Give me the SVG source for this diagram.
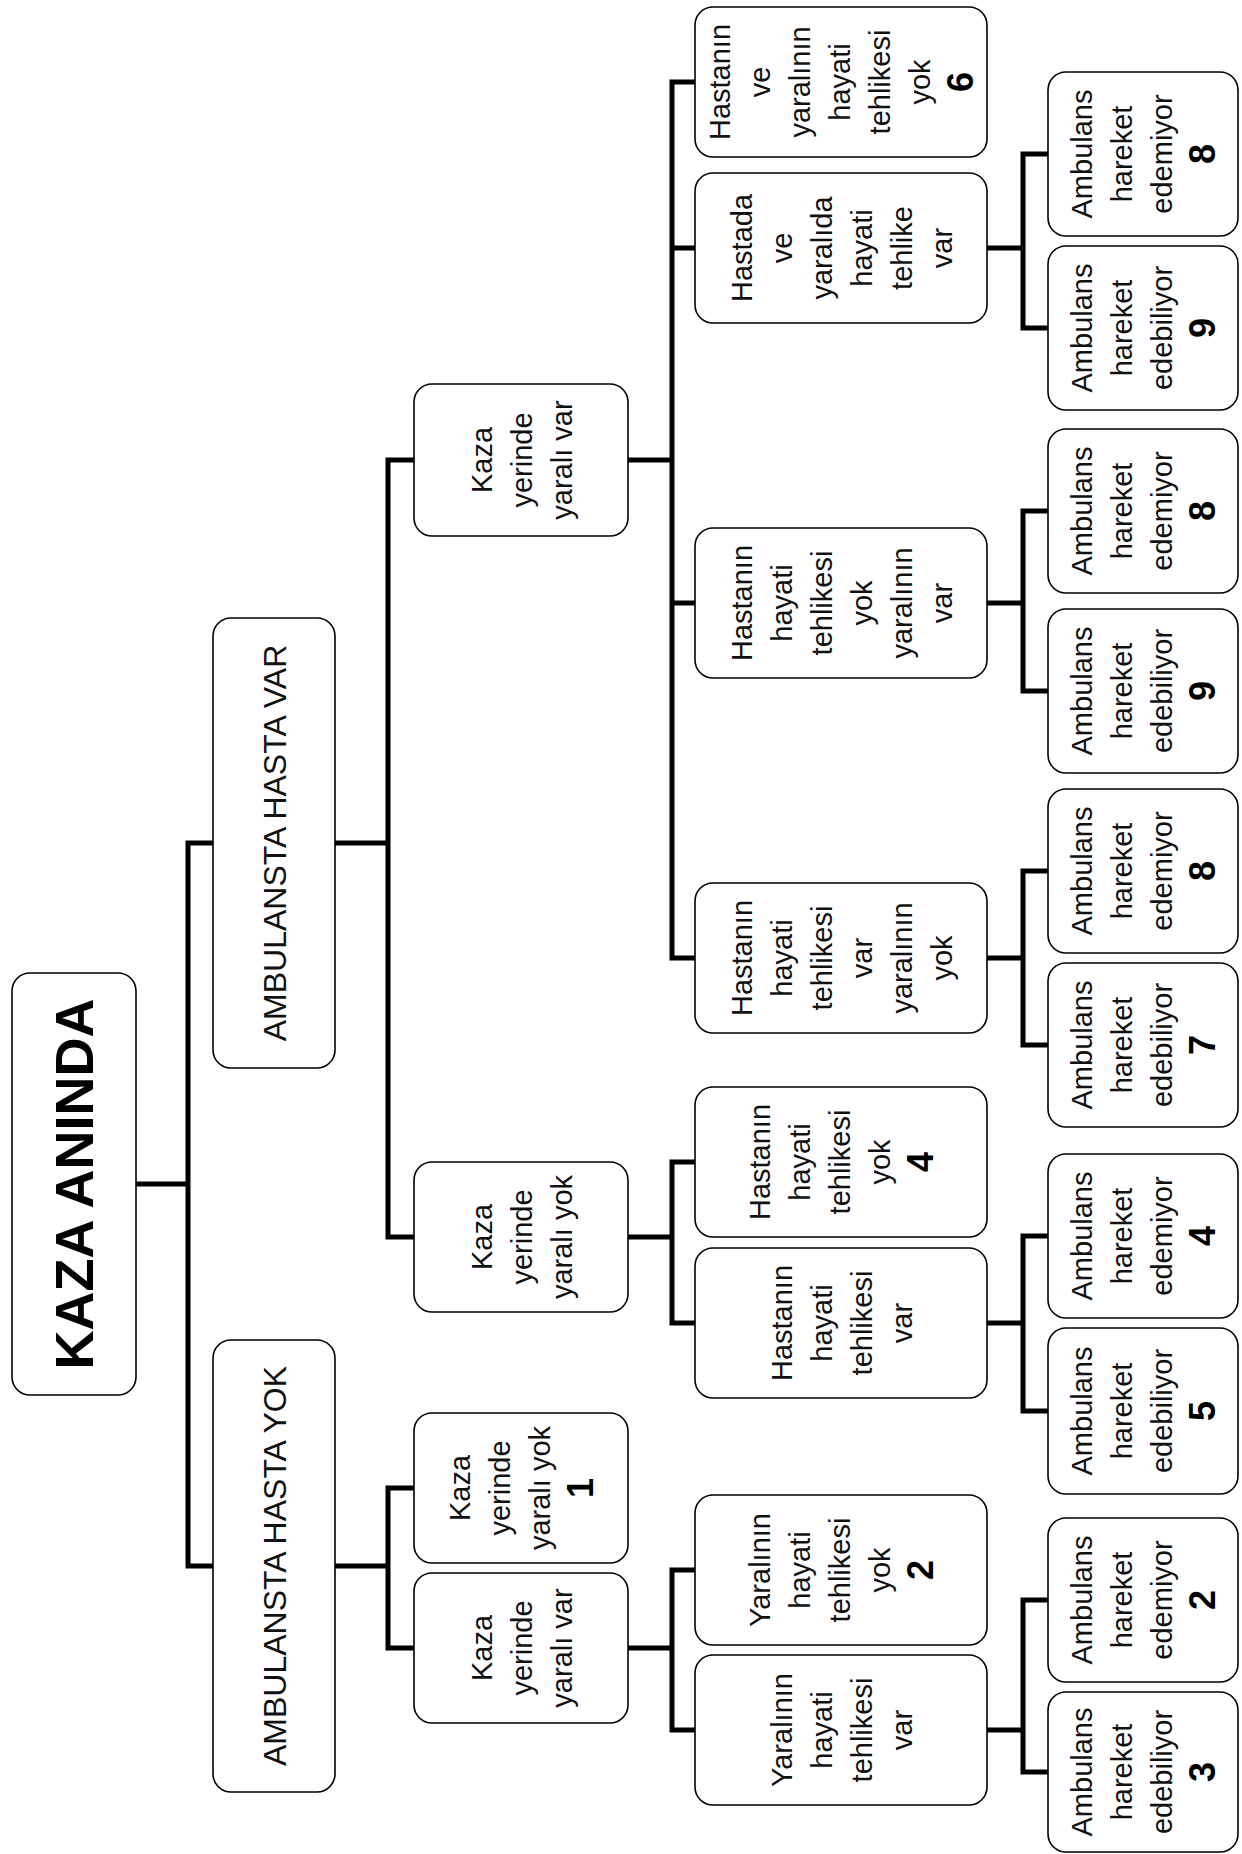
<svg xmlns="http://www.w3.org/2000/svg" width="1242" height="1854" viewBox="0 0 1242 1854">
<style>
.b{fill:#fff;stroke:#000;stroke-width:1.6}
.c{fill:none;stroke:#000;stroke-width:5}
text{font-family:"Liberation Sans",Arial,sans-serif;text-anchor:middle;fill:#111}
.t{font-size:29px}
.n{font-size:36px;font-weight:bold;fill:#000}
.big{font-size:32px}
.title{font-size:54px;font-weight:bold;fill:#000}
</style>
<rect width="1242" height="1854" fill="#fff"/>
<g id="connectors">
<path class="c" d="M136,1184H188M213,843H188V1566H213"/>
<path class="c" d="M335,843H388M414,460H388V1237H414"/>
<path class="c" d="M335,1566H388M414,1488H388V1648H414"/>
<path class="c" d="M628,1648H672M695,1570H672V1730H695"/>
<path class="c" d="M987,1730H1023M1048,1600H1023V1772H1048"/>
<path class="c" d="M628,1237H672M695,1162H672V1323H695"/>
<path class="c" d="M987,1323H1023M1048,1236H1023V1411H1048"/>
<path class="c" d="M628,460H672M695,82H672V958H695M672,248H695M672,603H695"/>
<path class="c" d="M987,248H1023M1048,154H1023V328H1048"/>
<path class="c" d="M987,603H1023M1048,511H1023V691H1048"/>
<path class="c" d="M987,958H1023M1048,871H1023V1045H1048"/>
</g>
<g id="root"><rect class="b" x="12" y="973" width="124" height="422" rx="18"/>
<text class="title" transform="translate(74,1184) rotate(-90)" y="19">KAZA ANINDA</text></g>
<g id="hasta-yok"><rect class="b" x="213" y="1340" width="122" height="452" rx="18"/>
<text class="big" transform="translate(274,1566) rotate(-90)" y="11.5">AMBULANSTA HASTA YOK</text></g>
<g id="hasta-var"><rect class="b" x="213" y="618" width="122" height="450" rx="18"/>
<text class="big" transform="translate(274,843) rotate(-90)" y="11.5">AMBULANSTA HASTA VAR</text></g>

<g id="kyv-up"><rect class="b" x="414" y="384" width="214" height="152" rx="18"/>
<text class="t" transform="translate(521,460) rotate(-90)"><tspan x="0" y="-29.5">Kaza</tspan><tspan x="0" y="10.5">yerinde</tspan><tspan x="0" y="50.5">yaralı var</tspan></text></g>
<g id="kyy-mid"><rect class="b" x="414" y="1162" width="214" height="150" rx="18"/>
<text class="t" transform="translate(521,1237) rotate(-90)"><tspan x="0" y="-29.5">Kaza</tspan><tspan x="0" y="10.5">yerinde</tspan><tspan x="0" y="50.5">yaralı yok</tspan></text></g>
<g id="kyy-1"><rect class="b" x="414" y="1413" width="214" height="150" rx="18"/>
<text class="t" transform="translate(521,1488) rotate(-90)"><tspan x="0" y="-51">Kaza</tspan><tspan x="0" y="-11">yerinde</tspan><tspan x="0" y="29">yaralı yok</tspan><tspan class="n" x="0" y="72">1</tspan></text></g>
<g id="kyv-low"><rect class="b" x="414" y="1573" width="214" height="150" rx="18"/>
<text class="t" transform="translate(521,1648) rotate(-90)"><tspan x="0" y="-29.5">Kaza</tspan><tspan x="0" y="10.5">yerinde</tspan><tspan x="0" y="50.5">yaralı var</tspan></text></g>

<g id="h6"><rect class="b" x="695" y="7" width="292" height="150" rx="18"/>
<text class="t" transform="translate(841,82) rotate(-90)"><tspan x="0" y="-111">Hastanın</tspan><tspan x="0" y="-71">ve</tspan><tspan x="0" y="-31">yaralının</tspan><tspan x="0" y="9">hayati</tspan><tspan x="0" y="49">tehlikesi</tspan><tspan x="0" y="89">yok</tspan><tspan class="n" x="0" y="132">6</tspan></text></g>
<g id="hada"><rect class="b" x="695" y="173" width="292" height="150" rx="18"/>
<text class="t" transform="translate(841,248) rotate(-90)"><tspan x="0" y="-89.5">Hastada</tspan><tspan x="0" y="-49.5">ve</tspan><tspan x="0" y="-9.5">yaralıda</tspan><tspan x="0" y="30.5">hayati</tspan><tspan x="0" y="70.5">tehlike</tspan><tspan x="0" y="110.5">var</tspan></text></g>
<g id="hyv"><rect class="b" x="695" y="528" width="292" height="150" rx="18"/>
<text class="t" transform="translate(841,603) rotate(-90)"><tspan x="0" y="-89.5">Hastanın</tspan><tspan x="0" y="-49.5">hayati</tspan><tspan x="0" y="-9.5">tehlikesi</tspan><tspan x="0" y="30.5">yok</tspan><tspan x="0" y="70.5">yaralının</tspan><tspan x="0" y="110.5">var</tspan></text></g>
<g id="hvy"><rect class="b" x="695" y="883" width="292" height="150" rx="18"/>
<text class="t" transform="translate(841,958) rotate(-90)"><tspan x="0" y="-89.5">Hastanın</tspan><tspan x="0" y="-49.5">hayati</tspan><tspan x="0" y="-9.5">tehlikesi</tspan><tspan x="0" y="30.5">var</tspan><tspan x="0" y="70.5">yaralının</tspan><tspan x="0" y="110.5">yok</tspan></text></g>
<g id="h4"><rect class="b" x="695" y="1087" width="292" height="150" rx="18"/>
<text class="t" transform="translate(841,1162) rotate(-90)"><tspan x="0" y="-71">Hastanın</tspan><tspan x="0" y="-31">hayati</tspan><tspan x="0" y="9">tehlikesi</tspan><tspan x="0" y="49">yok</tspan><tspan class="n" x="0" y="92">4</tspan></text></g>
<g id="hv"><rect class="b" x="695" y="1248" width="292" height="150" rx="18"/>
<text class="t" transform="translate(841,1323) rotate(-90)"><tspan x="0" y="-49.5">Hastanın</tspan><tspan x="0" y="-9.5">hayati</tspan><tspan x="0" y="30.5">tehlikesi</tspan><tspan x="0" y="70.5">var</tspan></text></g>
<g id="y2"><rect class="b" x="695" y="1495" width="292" height="150" rx="18"/>
<text class="t" transform="translate(841,1570) rotate(-90)"><tspan x="0" y="-71">Yaralının</tspan><tspan x="0" y="-31">hayati</tspan><tspan x="0" y="9">tehlikesi</tspan><tspan x="0" y="49">yok</tspan><tspan class="n" x="0" y="92">2</tspan></text></g>
<g id="yv"><rect class="b" x="695" y="1655" width="292" height="150" rx="18"/>
<text class="t" transform="translate(841,1730) rotate(-90)"><tspan x="0" y="-49.5">Yaralının</tspan><tspan x="0" y="-9.5">hayati</tspan><tspan x="0" y="30.5">tehlikesi</tspan><tspan x="0" y="70.5">var</tspan></text></g>

<g id="a8a"><rect class="b" x="1048" y="72" width="190" height="164" rx="18"/>
<text class="t" transform="translate(1143,154) rotate(-90)"><tspan x="0" y="-51">Ambulans</tspan><tspan x="0" y="-11">hareket</tspan><tspan x="0" y="29">edemiyor</tspan><tspan class="n" x="0" y="72">8</tspan></text></g>
<g id="a9a"><rect class="b" x="1048" y="246" width="190" height="164" rx="18"/>
<text class="t" transform="translate(1143,328) rotate(-90)"><tspan x="0" y="-51">Ambulans</tspan><tspan x="0" y="-11">hareket</tspan><tspan x="0" y="29">edebiliyor</tspan><tspan class="n" x="0" y="72">9</tspan></text></g>
<g id="a8b"><rect class="b" x="1048" y="429" width="190" height="164" rx="18"/>
<text class="t" transform="translate(1143,511) rotate(-90)"><tspan x="0" y="-51">Ambulans</tspan><tspan x="0" y="-11">hareket</tspan><tspan x="0" y="29">edemiyor</tspan><tspan class="n" x="0" y="72">8</tspan></text></g>
<g id="a9b"><rect class="b" x="1048" y="609" width="190" height="164" rx="18"/>
<text class="t" transform="translate(1143,691) rotate(-90)"><tspan x="0" y="-51">Ambulans</tspan><tspan x="0" y="-11">hareket</tspan><tspan x="0" y="29">edebiliyor</tspan><tspan class="n" x="0" y="72">9</tspan></text></g>
<g id="a8c"><rect class="b" x="1048" y="789" width="190" height="164" rx="18"/>
<text class="t" transform="translate(1143,871) rotate(-90)"><tspan x="0" y="-51">Ambulans</tspan><tspan x="0" y="-11">hareket</tspan><tspan x="0" y="29">edemiyor</tspan><tspan class="n" x="0" y="72">8</tspan></text></g>
<g id="a7"><rect class="b" x="1048" y="963" width="190" height="164" rx="18"/>
<text class="t" transform="translate(1143,1045) rotate(-90)"><tspan x="0" y="-51">Ambulans</tspan><tspan x="0" y="-11">hareket</tspan><tspan x="0" y="29">edebiliyor</tspan><tspan class="n" x="0" y="72">7</tspan></text></g>
<g id="a4"><rect class="b" x="1048" y="1154" width="190" height="164" rx="18"/>
<text class="t" transform="translate(1143,1236) rotate(-90)"><tspan x="0" y="-51">Ambulans</tspan><tspan x="0" y="-11">hareket</tspan><tspan x="0" y="29">edemiyor</tspan><tspan class="n" x="0" y="72">4</tspan></text></g>
<g id="a5"><rect class="b" x="1048" y="1328" width="190" height="166" rx="18"/>
<text class="t" transform="translate(1143,1411) rotate(-90)"><tspan x="0" y="-51">Ambulans</tspan><tspan x="0" y="-11">hareket</tspan><tspan x="0" y="29">edebiliyor</tspan><tspan class="n" x="0" y="72">5</tspan></text></g>
<g id="a2"><rect class="b" x="1048" y="1518" width="190" height="164" rx="18"/>
<text class="t" transform="translate(1143,1600) rotate(-90)"><tspan x="0" y="-51">Ambulans</tspan><tspan x="0" y="-11">hareket</tspan><tspan x="0" y="29">edemiyor</tspan><tspan class="n" x="0" y="72">2</tspan></text></g>
<g id="a3"><rect class="b" x="1048" y="1692" width="190" height="160" rx="18"/>
<text class="t" transform="translate(1143,1772) rotate(-90)"><tspan x="0" y="-51">Ambulans</tspan><tspan x="0" y="-11">hareket</tspan><tspan x="0" y="29">edebiliyor</tspan><tspan class="n" x="0" y="72">3</tspan></text></g>
</svg>
